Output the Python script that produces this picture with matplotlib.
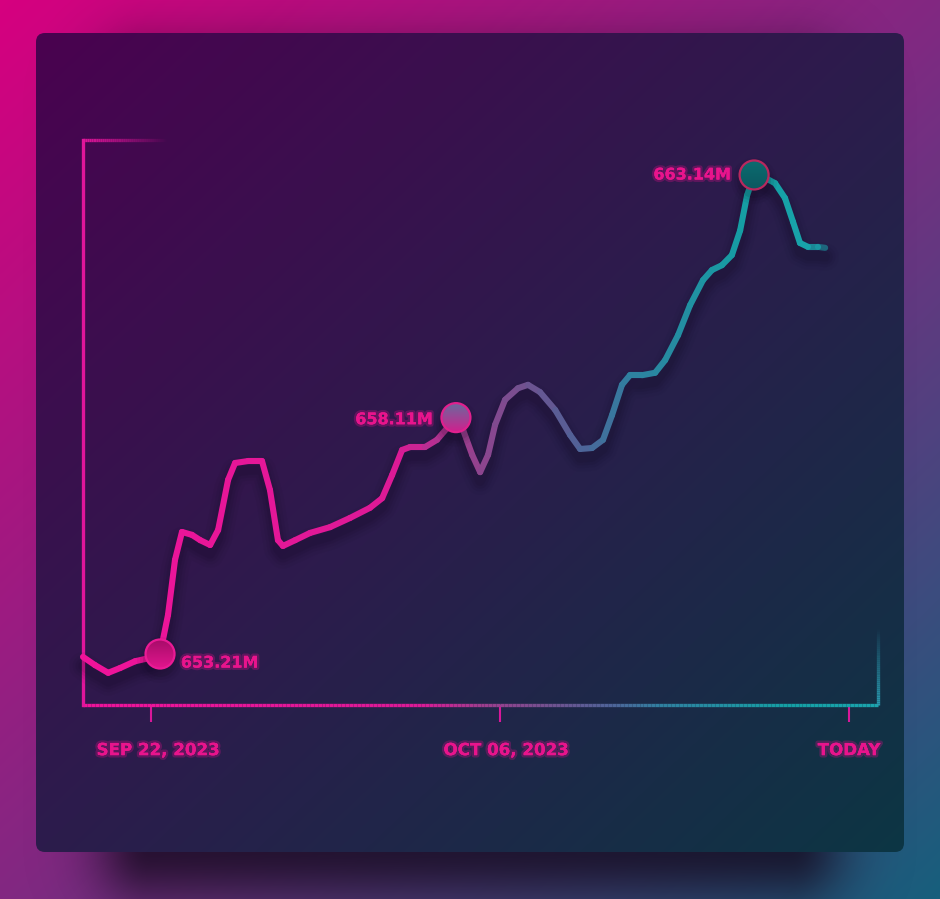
import numpy as np
import matplotlib
matplotlib.use("Agg")
import matplotlib.pyplot as plt
import matplotlib.patheffects as pe
from matplotlib.collections import LineCollection
from matplotlib.colors import LinearSegmentedColormap, to_rgba
from matplotlib.patches import FancyBboxPatch, Circle
from matplotlib.transforms import ScaledTranslation

# x: days since Sep 22, 2023 ; y: value in millions
days = [-2.73, -2.25, -1.72, -1.24, -0.64, -0.04, 0.36, 0.68, 0.96, 1.24,
        1.64, 1.97, 2.37, 2.69, 3.09, 3.37, 3.89, 4.45, 4.77, 5.09,
        5.29, 5.78, 6.38, 7.18, 7.98, 8.78, 9.27, 9.67, 10.07, 10.39,
        10.99, 11.47, 11.87, 12.23, 12.52, 12.88, 13.20, 13.52, 13.80, 14.20,
        14.72, 15.12, 15.60, 16.21, 16.81, 17.21, 17.69, 18.13, 18.49, 18.89,
        19.21, 19.70, 20.22, 20.62, 21.14, 21.62, 22.14, 22.50, 22.90, 23.30,
        23.63, 23.91, 24.19, 24.63, 25.03, 25.43, 25.75, 26.03, 26.35, 26.75, 27.04]
values = [653.15, 652.98, 652.82, 652.92, 653.06, 653.13, 653.21, 654.02, 655.16, 655.74,
          655.68, 655.57, 655.47, 655.78, 656.82, 657.17, 657.21, 657.21, 656.61, 655.57,
          655.45, 655.57, 655.72, 655.84, 656.03, 656.24, 656.44, 656.92, 657.44, 657.50,
          657.50, 657.65, 657.89, 658.11, 657.85, 657.34, 656.98, 657.34, 657.96, 658.48,
          658.72, 658.79, 658.64, 658.27, 657.75, 657.46, 657.48, 657.65, 658.16, 658.79,
          658.99, 658.99, 659.04, 659.30, 659.82, 660.44, 660.96, 661.17, 661.27, 661.48,
          661.99, 662.72, 663.14, 663.08, 662.97, 662.66, 662.17, 661.73, 661.65, 661.65, 661.63]
tick_days = [0, 14, 28]
tick_labels = ["SEP 22, 2023", "OCT 06, 2023", "TODAY"]
marked_idx = [6, 33, 62]

W, H = 940, 899
PINK = "#e8148c"
line_cmap = LinearSegmentedColormap.from_list("line", [
    (0.0, "#f0139a"), (0.40, "#dc1a96"), (0.47, "#a03c8e"), (0.55, "#74508f"),
    (0.625, "#506298"), (0.69, "#2f80a0"), (0.84, "#14a0a4"), (1.0, "#1ea6b2")])


def diag(stops, w, h):
    yy, xx = np.mgrid[0:h, 0:w]
    t = (xx / w + yy / h) / 2
    return LinearSegmentedColormap.from_list("d", stops)(t)


fig = plt.figure(figsize=(W / 100, H / 100), dpi=100)
bg = fig.add_axes([0, 0, 1, 1])
bg.set_xlim(0, W)
bg.set_ylim(H, 0)
bg.axis("off")

# outer background
bg.imshow(diag(["#d6007f", "#822882", "#175f7c"], W, H), extent=(0, W, H, 0),
          aspect="auto", zorder=0, interpolation="bilinear")

# card shadow
yy, xx = np.mgrid[0:H, 0:W] + 0.5
dx = np.maximum(np.maximum(150 - xx, xx - 790), 0)
dy = np.maximum(np.maximum(100 - yy, yy - 848), 0)
sh = np.zeros((H, W, 4))
sh[..., :3] = to_rgba("#140a1e")[:3]
sh[..., 3] = 0.8 * np.exp(-(np.hypot(dx, dy) / 55) ** 2)
bg.imshow(sh, extent=(0, W, H, 0), aspect="auto", zorder=1)

# card
cx0, cy0, cw, ch = 36, 33, 868, 819
card = FancyBboxPatch((cx0, cy0), cw, ch, boxstyle="round,pad=0,rounding_size=9",
                      facecolor="none", edgecolor="none", zorder=2)
bg.add_patch(card)
im = bg.imshow(diag(["#4a0250", "#2c1c4c", "#0c3644"], cw, ch),
               extent=(cx0, cx0 + cw, cy0 + ch, cy0), aspect="auto", zorder=2)
im.set_clip_path(card)

# chart axes
ax = fig.add_axes([83 / W, 1 - 705 / H, (878 - 83) / W, (705 - 140) / H])
ax.patch.set_alpha(0)
ax.set_xlim(-2.73, 29.16)
ax.set_ylim(652.153, 663.865)
for s in ax.spines.values():
    s.set_visible(False)
ax.set_yticks([])
ax.set_xticks(tick_days, tick_labels)
ax.tick_params(axis="x", length=12, width=1.5, color="#d8179a", pad=14,
               labelsize=12, labelcolor=PINK)
glow = [pe.withStroke(linewidth=3.5, foreground=(0.9, 0.05, 0.55, 0.28)), pe.Normal()]
label_shift = [7, 6, 0]  # px, labels sit a little right of their ticks
for lbl, dxp in zip(ax.get_xticklabels(), label_shift):
    lbl.set_fontweight("heavy")
    lbl.set_path_effects(glow)
    lbl.set_transform(lbl.get_transform() + ScaledTranslation(dxp / 100, 0, fig.dpi_scale_trans))

# axis frame lines (axes coords)
n = 200
xs = np.linspace(0, 1, n + 1)
segs = [[(xs[i], 0), (xs[i + 1], 0)] for i in range(n)]
ax.add_collection(LineCollection(segs, colors=line_cmap(xs[:-1] * 0.95),
                                 linewidths=2.4, transform=ax.transAxes, clip_on=False))
ax.plot([0, 0], [0, 1], color="#e0159a", lw=2.4, transform=ax.transAxes,
        clip_on=False, solid_capstyle="projecting")
tx = np.linspace(0, 0.105, 41)
top_cols = [to_rgba("#e0159a", 1 - i / 40) for i in range(40)]
ax.add_collection(LineCollection([[(tx[i], 1), (tx[i + 1], 1)] for i in range(40)],
                                 colors=top_cols, linewidths=2.4,
                                 transform=ax.transAxes, clip_on=False))
ry = np.linspace(0, 0.135, 41)
right_cols = [to_rgba("#2a9ab0", 1 - i / 40) for i in range(40)]
ax.add_collection(LineCollection([[(1, ry[i]), (1, ry[i + 1])] for i in range(40)],
                                 colors=right_cols, linewidths=2.4,
                                 transform=ax.transAxes, clip_on=False))

# line shadow
shift = ax.transData + ScaledTranslation(0, -9 / 100, fig.dpi_scale_trans)
for lw, a in [(20, 0.04), (15, 0.06), (11, 0.07), (7, 0.08)]:
    ax.plot(days, values, color="#0c0618", lw=lw, alpha=a, transform=shift,
            solid_capstyle="round", solid_joinstyle="round", clip_on=False)

# gradient line
pts = np.column_stack([days, values])
segs = np.stack([pts[:-1], pts[1:]], axis=1)
xmin, xmax = ax.get_xlim()
frac = ((pts[:-1, 0] + pts[1:, 0]) / 2 - xmin) / (xmax - xmin)
cols = line_cmap(frac)
cols[-2:, 3] = [0.8, 0.55]
ax.add_collection(LineCollection(segs, colors=cols, linewidths=4.4,
                                 capstyle="round", joinstyle="round", clip_on=False, zorder=3))

# markers on an overlay in pixel coords
top = fig.add_axes([0, 0, 1, 1])
top.set_xlim(0, W)
top.set_ylim(H, 0)
top.axis("off")
top.patch.set_alpha(0)

marker_styles = [
    ("#a80c6a", "#e3168e", "#ea1a95"),
    ("#6a6a9e", "#d0208e", "#e0208e"),
    ("#0b6c70", "#0c5860", "#b8285e"),
]
mx = [days[i] for i in marked_idx]
my = [values[i] for i in marked_idx]
disp = ax.transData.transform(np.column_stack([mx, my]))
pix = top.transData.inverted().transform(disp)
r = 14.5
for (px, py), (c_top, c_bot, c_edge) in zip(pix, marker_styles):
    for rr, a in [(23, 0.05), (20, 0.07), (17, 0.1)]:
        top.add_patch(Circle((px, py + 6), rr, color="#0c0618", alpha=a, lw=0, zorder=4))
    grad = LinearSegmentedColormap.from_list("m", [c_top, c_bot])(np.linspace(0, 1, 64))[:, None, :]
    circ = Circle((px, py), r, facecolor="none", edgecolor="none", zorder=5)
    top.add_patch(circ)
    gi = top.imshow(grad, extent=(px - r, px + r, py + r, py - r), aspect="auto", zorder=5)
    gi.set_clip_path(circ)
    top.add_patch(Circle((px, py), r, facecolor="none", edgecolor=c_edge, lw=1.6, zorder=6))

# value labels
label_offsets = [((15, -6.5), "left"), ((-16.5, -1.5), "right"), ((-16.5, 0), "right")]
for i, ((ox, oy), ha) in zip(marked_idx, label_offsets):
    ax.annotate(f"{values[i]:.2f}M", (days[i], values[i]), xytext=(ox, oy),
                textcoords="offset points", ha=ha, va="center", fontsize=11.5,
                fontweight="heavy", color=PINK, path_effects=glow,
                annotation_clip=False, zorder=7)

fig.savefig("out.png", dpi=100)
